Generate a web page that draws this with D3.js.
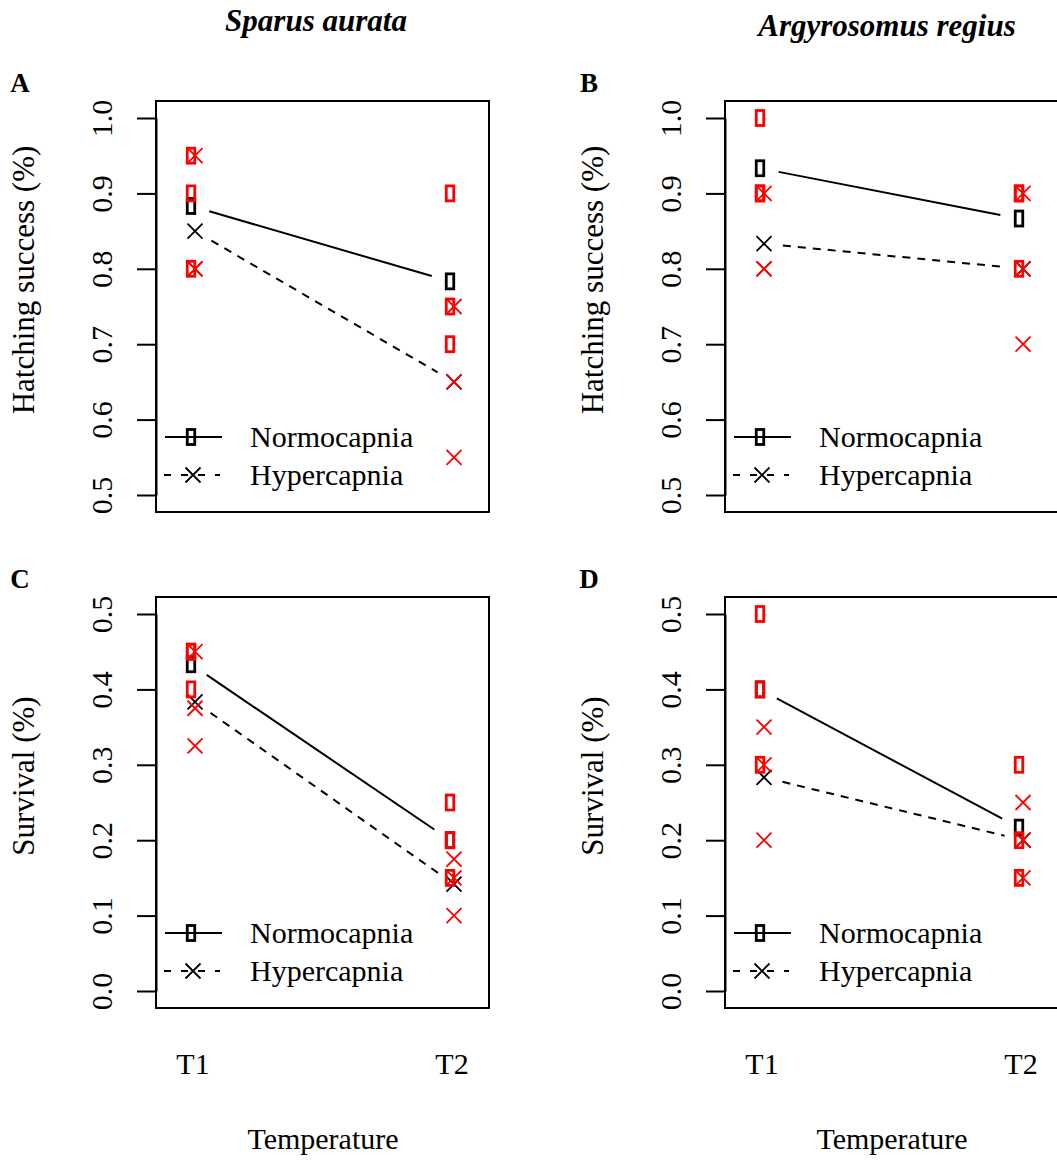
<!DOCTYPE html>
<html>
<head>
<meta charset="utf-8">
<script src="https://cdn.jsdelivr.net/npm/d3@7"></script>
<style>
  html, body { margin: 0; padding: 0; background: #fff; overflow: hidden; }
  svg { display: block; }
  text { font-family: "Liberation Serif", "Times New Roman", serif; fill: #000; }
</style>
</head>
<body>
<script>
// ---------- data ----------
const categories = ["T1", "T2"];
const seriesNames = ["Normocapnia", "Hypercapnia"];
const speciesTitles = ["Sparus aurata", "Argyrosomus regius"];
const panelLetters = ["A", "B", "C", "D"];
const yLabels = ["Hatching success (%)", "Survival (%)"];
const hatchTicks = [0.5, 0.6, 0.7, 0.8, 0.9, 1.0];
const survTicks = [0.0, 0.1, 0.2, 0.3, 0.4, 0.5];
const xTitle = "Temperature";

// replicate values per temperature (T1, T2)
const sparusHatchNormo = [[0.95, 0.90, 0.80], [0.90, 0.75, 0.70]];
const sparusHatchHyper = [[0.95, 0.80, 0.80], [0.75, 0.65, 0.55]];
const argyHatchNormo   = [[1.00, 0.90, 0.90], [0.90, 0.90, 0.80]];
const argyHatchHyper   = [[0.90, 0.80, 0.80], [0.90, 0.80, 0.70]];
const sparusSurvNormo  = [[0.45, 0.45, 0.40], [0.25, 0.20, 0.15]];
const sparusSurvHyper  = [[0.45, 0.375, 0.325], [0.175, 0.15, 0.10]];
const argySurvNormo    = [[0.50, 0.40, 0.30], [0.30, 0.20, 0.15]];
const argySurvHyper    = [[0.35, 0.30, 0.20], [0.25, 0.20, 0.15]];

// ---------- layout ----------
const W = 1057, H = 1162;
const svg = d3.select("body").append("svg").attr("width", W).attr("height", H);

const panels = [
  { letter: panelLetters[0], left: 156, top: 101, ticks: hatchTicks, ylab: yLabels[0], normo: sparusHatchNormo, hyper: sparusHatchHyper, bottom: false },
  { letter: panelLetters[1], left: 725, top: 101, ticks: hatchTicks, ylab: yLabels[0], normo: argyHatchNormo, hyper: argyHatchHyper, bottom: false },
  { letter: panelLetters[2], left: 156, top: 597, ticks: survTicks, ylab: yLabels[1], normo: sparusSurvNormo, hyper: sparusSurvHyper, bottom: true },
  { letter: panelLetters[3], left: 725, top: 597, ticks: survTicks, ylab: yLabels[1], normo: argySurvNormo, hyper: argySurvHyper, bottom: true }
];
const PW = 333, PH = 411;
const SQ_OFF = -2, X_OFF = 2;

// titles
svg.append("text").attr("x", 316).attr("y", 31).attr("text-anchor", "middle")
  .style("font-size", "31px").style("font-weight", "bold").style("font-style", "italic").text(speciesTitles[0]);
svg.append("text").attr("x", 887).attr("y", 36).attr("text-anchor", "middle")
  .style("font-size", "31px").style("font-weight", "bold").style("font-style", "italic").text(speciesTitles[1]);

function drawSquare(g, x, y, color) {
  g.append("rect").attr("x", x - 3.75).attr("y", y - 7.5).attr("width", 7.5).attr("height", 15)
    .attr("fill", "none").attr("stroke", color).attr("stroke-width", 2.8);
}
function drawCross(g, x, y, color) {
  const s = 7.5;
  g.append("path").attr("d", `M${x - s},${y - s}L${x + s},${y + s}M${x - s},${y + s}L${x + s},${y - s}`)
    .attr("stroke", color).attr("stroke-width", 1.8).attr("fill", "none");
}
function gapLine(g, x1, y1, x2, y2, gap, dashed) {
  const dx = x2 - x1, dy = y2 - y1, L = Math.hypot(dx, dy);
  const ux = dx / L, uy = dy / L;
  g.append("line")
    .attr("x1", x1 + ux * gap).attr("y1", y1 + uy * gap)
    .attr("x2", x2 - ux * gap).attr("y2", y2 - uy * gap)
    .attr("stroke", "#000").attr("stroke-width", 2)
    .attr("stroke-dasharray", dashed ? "8,7" : null);
}

panels.forEach(p => {
  const g = svg.append("g");
  const y = d3.scaleLinear().domain(d3.extent(p.ticks)).range([p.top + 394, p.top + 17]);
  const x = d3.scalePoint().domain(categories).range([p.left + 37, p.left + 296]);

  // y axis
  const ax = g.append("g").attr("transform", `translate(${p.left},0)`)
    .call(d3.axisLeft(y).tickValues(p.ticks).tickSize(19).tickSizeOuter(0).tickFormat(d3.format(".1f")));
  ax.select(".domain").attr("stroke", "#000").attr("stroke-width", 2);
  ax.selectAll(".tick line").attr("stroke", "#000").attr("stroke-width", 2);
  ax.selectAll(".tick text")
    .attr("x", null).attr("dy", null).attr("text-anchor", "middle")
    .attr("transform", "translate(-44,0) rotate(-90)")
    .style("font-size", "30px").style("font-family", "'Liberation Serif', serif").attr("fill", "#000");

  // box
  g.append("rect").attr("x", p.left).attr("y", p.top).attr("width", PW).attr("height", PH)
    .attr("fill", "none").attr("stroke", "#000").attr("stroke-width", 2);

  // y label
  g.append("text").attr("transform", `translate(${p.left - 122},${p.top + 179}) rotate(-90)`)
    .attr("text-anchor", "middle").style("font-size", "31px").text(p.ylab);

  // panel letter
  g.append("text").attr("x", p.left - 136).attr("y", p.top - 9).attr("text-anchor", "middle")
    .style("font-size", "27px").style("font-weight", "bold").text(p.letter);

  // means (black) with gapped lines
  const mN = categories.map((c, i) => [x(c) + SQ_OFF, y(d3.mean(p.normo[i]))]);
  const mH = categories.map((c, i) => [x(c) + X_OFF, y(d3.mean(p.hyper[i]))]);
  gapLine(g, mN[0][0], mN[0][1], mN[1][0], mN[1][1], 19, false);
  gapLine(g, mH[0][0], mH[0][1], mH[1][0], mH[1][1], 19, true);
  mN.forEach(pt => drawSquare(g, pt[0], pt[1], "#000"));
  mH.forEach(pt => drawCross(g, pt[0], pt[1], "#000"));

  // raw points (red), drawn over the means
  categories.forEach((c, i) => {
    p.normo[i].forEach(v => drawSquare(g, x(c) + SQ_OFF, y(v), "#ff0000"));
    p.hyper[i].forEach(v => drawCross(g, x(c) + X_OFF, y(v), "#ff0000"));
  });

  // legend
  const ly1 = p.top + 336, ly2 = p.top + 374;
  g.append("line").attr("x1", p.left + 9).attr("x2", p.left + 66).attr("y1", ly1).attr("y2", ly1)
    .attr("stroke", "#000").attr("stroke-width", 2);
  drawSquare(g, p.left + 35, ly1, "#000");
  g.append("line").attr("x1", p.left + 8).attr("x2", p.left + 64).attr("y1", ly2).attr("y2", ly2)
    .attr("stroke", "#000").attr("stroke-width", 2).attr("stroke-dasharray", "7,10");
  drawCross(g, p.left + 37, ly2, "#000");
  g.append("text").attr("x", p.left + 94).attr("y", ly1 + 10).style("font-size", "30px").text(seriesNames[0]);
  g.append("text").attr("x", p.left + 94).attr("y", ly2 + 10).style("font-size", "30px").text(seriesNames[1]);

  // x labels for bottom panels
  if (p.bottom) {
    categories.forEach(c => {
      g.append("text").attr("x", x(c)).attr("y", 1074).attr("text-anchor", "middle")
        .style("font-size", "30px").text(c);
    });
    g.append("text").attr("x", p.left + 167).attr("y", 1149).attr("text-anchor", "middle")
      .style("font-size", "30px").text(xTitle);
  }
});
</script>
</body>
</html>
